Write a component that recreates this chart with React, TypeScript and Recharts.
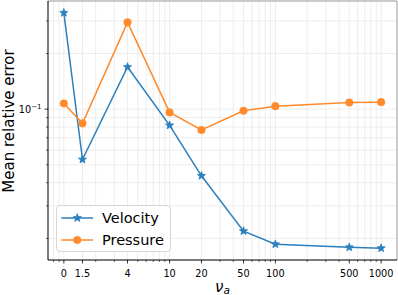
import React from 'react';
import { LineChart, Line, XAxis, YAxis, CartesianGrid, ReferenceLine, Legend } from 'recharts';

const nuValues = [0, 1.5, 4, 10, 20, 50, 100, 500, 1000];
const velocityError = [0.332, 0.0534, 0.169, 0.0817, 0.0436, 0.0219, 0.0186, 0.0179, 0.0177];
const pressureError = [0.1073, 0.0838, 0.2946, 0.096, 0.0771, 0.098, 0.1038, 0.1086, 0.1091];

const xMajorTicks = [1, 1.5, 4, 10, 20, 50, 100, 500, 1000];
const xMajorLabels = ['0', '1.5', '4', '10', '20', '50', '100', '500', '1000'];
const xMinorTicks = [0.8, 0.9, 2, 3, 5, 6, 7, 8, 9, 30, 40, 60, 70, 80, 90, 200, 300, 400, 600, 700, 800, 900];
const yMajorTicks = [0.1];
const yMinorTicks = [0.02, 0.03, 0.04, 0.05, 0.06, 0.07, 0.08, 0.09, 0.2, 0.3];

const xDomain = [0.708, 1413];
const yDomain = [0.01528, 0.3845];

const BLUE = '#2b7fbd';
const ORANGE = '#ff8a2b';
const FONT = 'DejaVu Sans, sans-serif';

const data = nuValues.map((nu, i) => ({
  x: nu === 0 ? 1 : nu,
  velocity: velocityError[i],
  pressure: pressureError[i],
}));

const xTicks = [...xMajorTicks, ...xMinorTicks].sort((a, b) => a - b);
const yTicks = [...yMajorTicks, ...yMinorTicks].sort((a, b) => a - b);

const XTick = (props: any) => {
  const { x, y, payload } = props;
  const idx = xMajorTicks.indexOf(payload.value);
  const major = idx >= 0;
  return (
    <g>
      <line x1={x} x2={x} y1={y} y2={y + (major ? 3.5 : 2)} stroke="#000" strokeWidth={major ? 0.8 : 0.6} />
      {major && (
        <text x={x} y={y + 16.5} textAnchor="middle" fontSize={9.7} fontFamily={FONT} fill="#000">
          {xMajorLabels[idx]}
        </text>
      )}
    </g>
  );
};

const YTick = (props: any) => {
  const { x, y, payload } = props;
  const major = yMajorTicks.indexOf(payload.value) >= 0;
  return (
    <g>
      <line x1={x} x2={x - (major ? 3.5 : 2)} y1={y} y2={y} stroke="#000" strokeWidth={major ? 0.8 : 0.6} />
      {major && (
        <text x={x - 6.5} y={y + 4} textAnchor="end" fontSize={9.7} fontFamily={FONT} fill="#000">
          10
          <tspan fontSize={7} dy={-4.5}>−1</tspan>
        </text>
      )}
    </g>
  );
};

const Star = (props: any) => {
  const { cx, cy } = props;
  if (cx == null || cy == null) return null;
  const R = 4.3;
  const r = R * 0.42;
  const pts: string[] = [];
  for (let k = 0; k < 10; k++) {
    const a = -Math.PI / 2 + (k * Math.PI) / 5;
    const rad = k % 2 === 0 ? R : r;
    pts.push(`${cx + rad * Math.cos(a)},${cy + rad * Math.sin(a)}`);
  }
  return <polygon points={pts.join(' ')} fill={BLUE} stroke={BLUE} strokeWidth={0.8} />;
};

const Circle = (props: any) => {
  const { cx, cy } = props;
  if (cx == null || cy == null) return null;
  return <circle cx={cx} cy={cy} r={3.8} fill={ORANGE} stroke={ORANGE} strokeWidth={0.5} />;
};

const LegendContent = () => {
  const rows = [
    { name: 'Velocity', color: BLUE, marker: 'star', top: 11.7 },
    { name: 'Pressure', color: ORANGE, marker: 'circle', top: 34.3 },
  ];
  return (
    <div
      style={{
        position: 'relative',
        width: 115,
        height: 47,
        boxSizing: 'border-box',
        border: '1px solid #d6d6d6',
        borderRadius: 4,
        background: 'rgba(255,255,255,0.85)',
      }}
    >
      {rows.map((r) => (
        <div key={r.name} style={{ position: 'absolute', left: 0, top: r.top - 9, height: 18, width: 115 }}>
          <svg width={40} height={18} style={{ position: 'absolute', left: 0, top: 0 }}>
            <line x1={4.3} x2={36} y1={9} y2={9} stroke={r.color} strokeWidth={1.5} />
            {r.marker === 'star' ? <Star cx={20.3} cy={9} /> : <Circle cx={20.3} cy={9} />}
          </svg>
          <span
            style={{
              position: 'absolute',
              left: 45.5,
              top: 0,
              lineHeight: '18px',
              fontSize: 14.5,
              fontFamily: FONT,
              color: '#000',
              whiteSpace: 'nowrap',
            }}
          >
            {r.name}
          </span>
        </div>
      ))}
    </div>
  );
};

const XLabel = (props: any) => {
  const { viewBox } = props;
  const cx = viewBox.x + viewBox.width / 2;
  return (
    <text x={cx} y={viewBox.y + 31.5} textAnchor="middle" fontFamily={FONT} fontSize={15} fill="#000">
      <tspan fontStyle="italic">ν</tspan>
      <tspan fontStyle="italic" fontSize={10.5} dy={2.5}>a</tspan>
    </text>
  );
};

const YLabel = () => (
  <text
    x={14}
    y={121}
    transform="rotate(-90 14 121)"
    textAnchor="middle"
    fontFamily={FONT}
    fontSize={15}
    fill="#000"
  >
    Mean relative error
  </text>
);

export default function App() {
  return (
    <div style={{ position: 'absolute', left: 0, top: 0, width: 398, height: 295, background: '#fff' }}>
      <LineChart width={398} height={295} data={data} margin={{ top: 1, right: 1, bottom: 0, left: 0 }}>
        <CartesianGrid stroke="#e8e8e8" strokeWidth={0.8} />
        <XAxis
          dataKey="x"
          type="number"
          scale="log"
          domain={xDomain}
          allowDataOverflow
          ticks={xTicks}
          interval={0}
          tick={<XTick />}
          tickLine={false}
          tickSize={0}
          tickMargin={0}
          height={35}
          axisLine={{ stroke: '#000', strokeWidth: 1 }}
          label={<XLabel />}
        />
        <YAxis
          type="number"
          scale="log"
          domain={yDomain}
          allowDataOverflow
          ticks={yTicks}
          interval={0}
          tick={<YTick />}
          tickLine={false}
          tickSize={0}
          tickMargin={0}
          width={48}
          axisLine={{ stroke: '#000', strokeWidth: 1 }}
          label={<YLabel />}
        />
        <ReferenceLine y={yDomain[1]} stroke="#a0a0a0" strokeWidth={1} />
        <ReferenceLine x={xDomain[1]} stroke="#a0a0a0" strokeWidth={1} />
        <Line
          dataKey="velocity"
          name="Velocity"
          stroke={BLUE}
          strokeWidth={1.5}
          dot={<Star />}
          activeDot={false}
          isAnimationActive={false}
        />
        <Line
          dataKey="pressure"
          name="Pressure"
          stroke={ORANGE}
          strokeWidth={1.5}
          dot={<Circle />}
          activeDot={false}
          isAnimationActive={false}
        />
        <Legend
          layout="vertical"
          align="center"
          verticalAlign="middle"
          content={<LegendContent />}
          wrapperStyle={{ position: 'absolute', left: 55.5, top: 205, width: 115, height: 47 }}
        />
      </LineChart>
    </div>
  );
}
